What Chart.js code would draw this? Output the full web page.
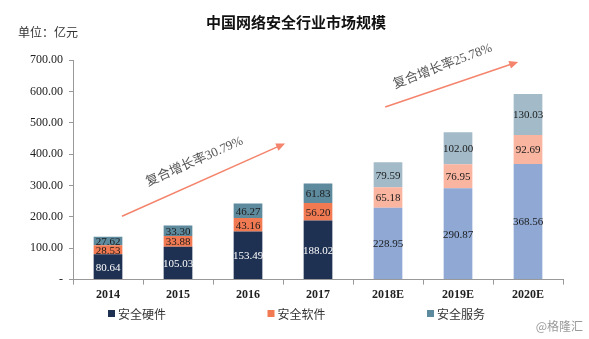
<!DOCTYPE html>
<html>
<head>
<meta charset="utf-8">
<script src="https://cdn.jsdelivr.net/npm/chart.js@4.4.0/dist/chart.umd.min.js"></script>
<style>
  html, body { margin: 0; padding: 0; background: #fff; }
  #wrap { width: 589px; height: 339px; position: relative; }
</style>
</head>
<body>
<div id="wrap"><canvas id="chartMercado"></canvas></div>
<script>
// dados do gráfico
const anos = ['2014', '2015', '2016', '2017', '2018E', '2019E', '2020E'];
const hardware = [80.64, 105.03, 153.49, 188.02, 228.95, 290.87, 368.56];
const software = [28.53, 33.88, 43.16, 56.20, 65.18, 76.95, 92.69];
const servicos = [27.62, 33.30, 46.27, 61.83, 79.59, 102.00, 130.03];
const yTicks = [0, 100, 200, 300, 400, 500, 600, 700];

// setas de crescimento: [indice, valor] inicio -> fim
const setaTextos = ['复合增长率30.79%', '复合增长率25.78%'];
const setaInicio = [[0.2, 202], [3.96, 550]];
const setaFim = [[2.53, 434], [5.86, 694]];

const previsao = anos.map(a => a.endsWith('E'));
const cor = (real, prev) => previsao.map(p => p ? prev : real);

const serif = '"Liberation Serif", "Times New Roman", "Noto Sans CJK SC", serif';
const cjk = '"Noto Sans CJK SC", "DejaVu Sans", sans-serif';

// rótulos dentro das barras
const rotulos = {
    id: 'rotulos',
    afterDatasetsDraw(chart) {
        const ctx = chart.ctx;
        ctx.save();
        ctx.font = '11px ' + serif;
        ctx.textAlign = 'center';
        ctx.textBaseline = 'middle';
        chart.data.datasets.forEach((ds, i) => {
            chart.getDatasetMeta(i).data.forEach((bar, j) => {
                ctx.fillStyle = (i === 0 && !previsao[j]) ? '#ffffff' : '#1a1a1a';
                ctx.fillText(ds.data[j].toFixed(2), bar.x, (bar.y + bar.base) / 2 + 1);
            });
        });
        ctx.restore();
    }
};

// título, unidade, setas, legenda e marca d'água
const extras = {
    id: 'extras',
    afterDraw(chart) {
        const ctx = chart.ctx;
        const x = chart.scales.x, y = chart.scales.y;
        ctx.save();
        ctx.fillStyle = '#111';
        ctx.font = 'bold 15px ' + cjk;
        ctx.textAlign = 'center';
        ctx.textBaseline = 'middle';
        ctx.fillText('中国网络安全行业市场规模', 296, 22);

        ctx.font = '12px ' + cjk;
        ctx.textAlign = 'left';
        ctx.fillStyle = '#333';
        ctx.fillText('单位：亿元', 18, 32);

        setaTextos.forEach((txt, k) => {
            const x0 = x.getPixelForValue(setaInicio[k][0]), y0 = y.getPixelForValue(setaInicio[k][1]);
            const x1 = x.getPixelForValue(setaFim[k][0]), y1 = y.getPixelForValue(setaFim[k][1]);
            const ang = Math.atan2(y1 - y0, x1 - x0);
            ctx.strokeStyle = '#f4846c';
            ctx.fillStyle = '#f4846c';
            ctx.lineWidth = 1.5;
            ctx.beginPath();
            ctx.moveTo(x0, y0);
            ctx.lineTo(x1 - 6 * Math.cos(ang), y1 - 6 * Math.sin(ang));
            ctx.stroke();
            ctx.beginPath();
            ctx.moveTo(x1, y1);
            ctx.lineTo(x1 - 9 * Math.cos(ang) + 4 * Math.sin(ang), y1 - 9 * Math.sin(ang) - 4 * Math.cos(ang));
            ctx.lineTo(x1 - 9 * Math.cos(ang) - 4 * Math.sin(ang), y1 - 9 * Math.sin(ang) + 4 * Math.cos(ang));
            ctx.closePath();
            ctx.fill();

            // texto acima da seta
            const mx = (x0 + x1) / 2 - 9, my = (y0 + y1) / 2 - 18;
            ctx.translate(mx, my);
            ctx.rotate(k === 0 ? ang : ang - 0.04);
            ctx.fillStyle = '#555';
            ctx.font = '13px ' + serif;
            ctx.textAlign = 'center';
            ctx.fillText(txt, 0, 0);
            ctx.setTransform(1, 0, 0, 1, 0, 0);
        });

        // legenda manual (espaçamento largo como no original)
        ctx.font = '12px ' + cjk;
        ctx.textAlign = 'left';
        chart.data.datasets.forEach((ds, i) => {
            const lx = 108 + i * 159.5;
            ctx.fillStyle = ds.backgroundColor[0];
            ctx.fillRect(lx, 310, 7, 7);
            ctx.fillStyle = '#333';
            ctx.fillText(ds.label, lx + 10, 314);
        });

        ctx.fillStyle = '#9a9a9a';
        ctx.font = '12px ' + cjk;
        ctx.textAlign = 'right';
        ctx.fillText('@格隆汇', 583, 326);
        ctx.restore();
    }
};

new Chart(document.getElementById('chartMercado'), {
    type: 'bar',
    data: {
        labels: anos,
        datasets: [
            { label: '安全硬件', data: hardware, backgroundColor: cor('#1f3152', '#8fa9d4') },
            { label: '安全软件', data: software, backgroundColor: cor('#f27a53', '#f9b5a0') },
            { label: '安全服务', data: servicos, backgroundColor: cor('#5d8a9d', '#a3bbc9') }
        ]
    },
    options: {
        responsive: true,
        maintainAspectRatio: false,
        animation: false,
        layout: { padding: { top: 60, right: 26, left: 8, bottom: 34 } },
        datasets: { bar: { barPercentage: 0.41, categoryPercentage: 1.0 } },
        scales: {
            x: {
                stacked: true,
                grid: { drawOnChartArea: false, color: '#999', tickLength: 5 },
                border: { color: '#999' },
                ticks: { color: '#222', font: { family: serif, size: 12, weight: 'bold' }, padding: 3 }
            },
            y: {
                stacked: true,
                min: 0,
                max: 700,
                afterBuildTicks: (s) => { s.ticks = yTicks.map(v => ({ value: v })); },
                afterFit: (s) => { s.width = 65; },
                grid: { drawOnChartArea: false, color: '#999', tickLength: 4 },
                border: { color: '#999' },
                ticks: {
                    color: '#222',
                    autoSkip: false,
                    font: { family: serif, size: 12 },
                    padding: 6,
                    callback: (v) => v === 0 ? '-' : v.toFixed(2)
                }
            }
        },
        plugins: {
            legend: { display: false },
            tooltip: { enabled: false }
        }
    },
    plugins: [rotulos, extras]
});
</script>
</body>
</html>
